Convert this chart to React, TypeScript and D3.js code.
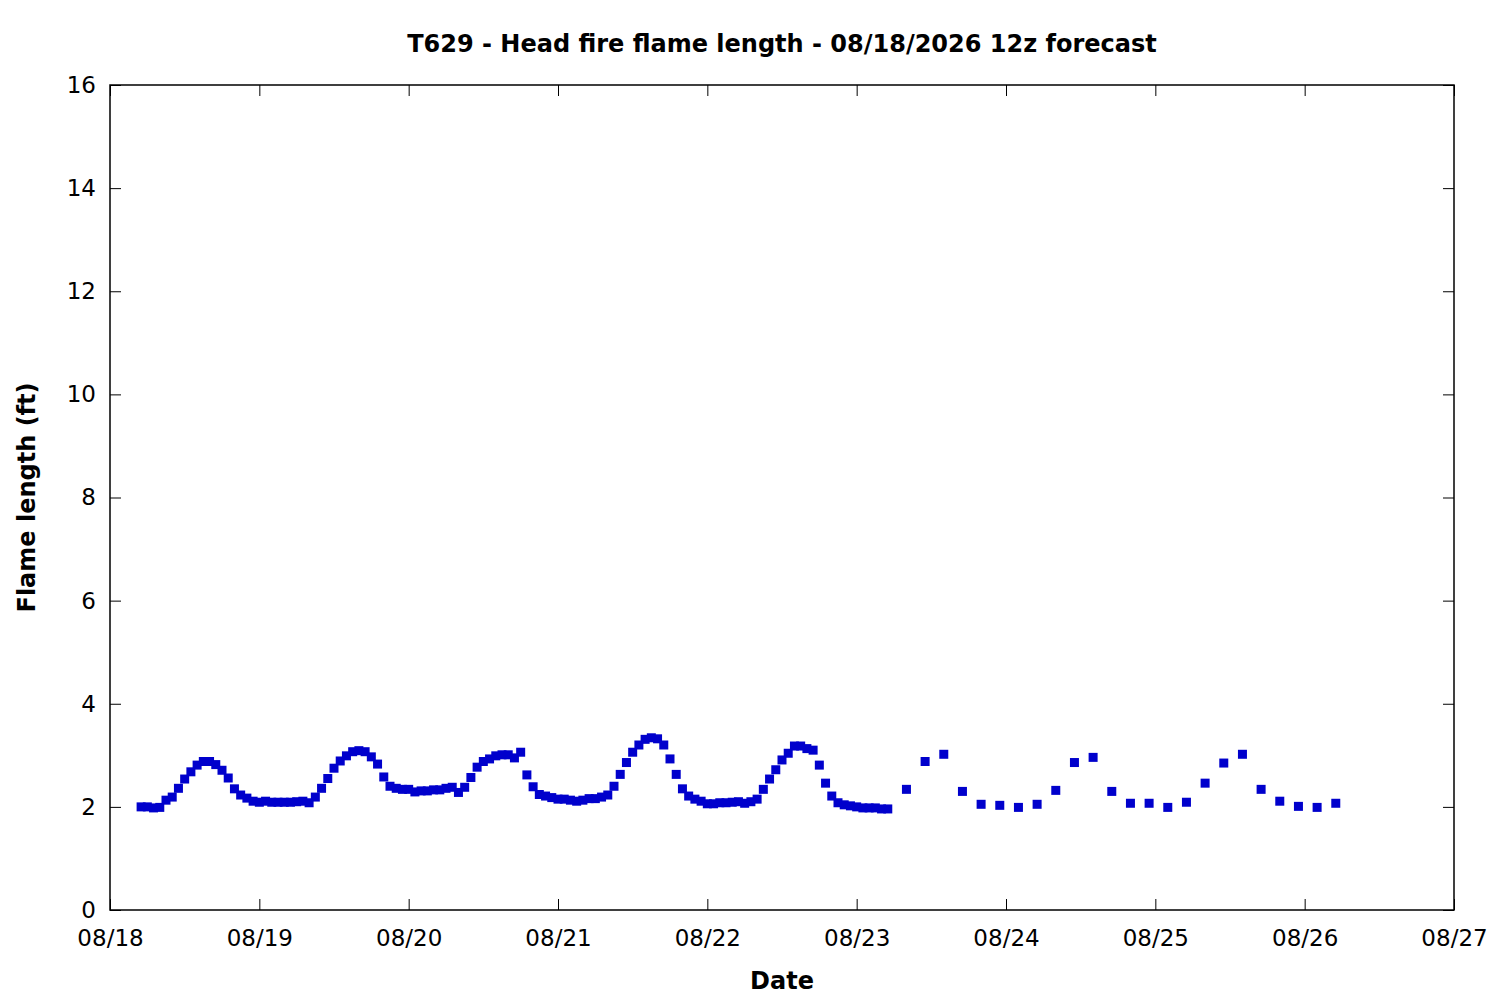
import React, { useEffect, useRef } from 'react';
import * as d3 from 'd3';

// hourly forecast values, 08/18 05:00 -> 08/23 05:00
const hourlyStart = '2026-08-18T05:00:00Z';
const hourlyValues = [
  2.00, 2.00, 1.98, 1.99, 2.13, 2.19, 2.36, 2.54, 2.68, 2.81, 2.88, 2.88,
  2.82, 2.71, 2.56, 2.35, 2.23, 2.17, 2.11, 2.09, 2.11, 2.09, 2.09, 2.09,
  2.09, 2.10, 2.11, 2.08, 2.19, 2.36, 2.55, 2.75, 2.89, 2.99, 3.07, 3.09,
  3.07, 2.97, 2.83, 2.58, 2.40, 2.36, 2.34, 2.34, 2.29, 2.31, 2.31, 2.33,
  2.33, 2.36, 2.38, 2.28, 2.38, 2.57, 2.77, 2.88, 2.93, 2.99, 3.01, 3.01,
  2.95, 3.06, 2.62, 2.39, 2.24, 2.21, 2.18, 2.15, 2.15, 2.13, 2.11, 2.13,
  2.16, 2.16, 2.19, 2.23, 2.40, 2.63, 2.86, 3.06, 3.20, 3.31, 3.34, 3.32,
  3.20, 2.93, 2.63, 2.35, 2.21, 2.15, 2.11, 2.06, 2.06, 2.08, 2.08, 2.09,
  2.10, 2.07, 2.10, 2.15, 2.34, 2.54, 2.72, 2.91, 3.04, 3.18, 3.18, 3.13,
  3.10, 2.81, 2.46, 2.21, 2.08, 2.04, 2.02, 2.00, 1.98, 1.98, 1.98, 1.96,
  1.96,
];

// 3-hourly values, 08/23 08:00 -> 08/26 05:00
const threeHourlyStart = '2026-08-23T08:00:00Z';
const threeHourlyValues = [
  2.34, 2.88, 3.02, 2.30, 2.05, 2.03, 1.99, 2.05, 2.32, 2.86, 2.96, 2.30,
  2.07, 2.07, 1.99, 2.09, 2.46, 2.85, 3.02, 2.34, 2.11, 2.01, 1.99, 2.07,
];

const yTicks = [0, 2, 4, 6, 8, 10, 12, 14, 16];
const xDomain = ['2026-08-18T00:00:00Z', '2026-08-27T00:00:00Z'];

const HOUR = 3600 * 1000;

const App: React.FC = () => {
  const svgRef = useRef<SVGSVGElement>(null);

  useEffect(() => {
    if (!svgRef.current) return;
    const svg = d3.select(svgRef.current);
    svg.selectAll('*').remove();

    const width = 1500;
    const height = 1000;
    const margin = { top: 85, right: 46, bottom: 90, left: 110 };
    const font = 'DejaVu Sans, sans-serif';
    const tickLen = 11;

    const points: { t: Date; v: number }[] = [];
    const h0 = new Date(hourlyStart).getTime();
    hourlyValues.forEach((v, i) => points.push({ t: new Date(h0 + i * HOUR), v }));
    const t0 = new Date(threeHourlyStart).getTime();
    threeHourlyValues.forEach((v, i) => points.push({ t: new Date(t0 + i * 3 * HOUR), v }));

    const x = d3.scaleUtc()
      .domain(xDomain.map(d => new Date(d)))
      .range([margin.left, width - margin.right]);

    const y = d3.scaleLinear()
      .domain([0, 16])
      .range([height - margin.bottom, margin.top]);

    const xTicks = x.ticks(d3.utcDay.every(1)!);
    const fmt = d3.utcFormat('%m/%d');

    // Bottom axis (ticks inside)
    const bottom = svg.append('g')
      .attr('transform', `translate(0,${height - margin.bottom})`)
      .call(d3.axisBottom(x).tickValues(xTicks).tickFormat(d => fmt(d as Date)).tickSizeInner(-tickLen).tickSizeOuter(0).tickPadding(20));
    bottom.select('.domain').remove();

    const top = svg.append('g')
      .attr('transform', `translate(0,${margin.top})`)
      .call(d3.axisTop(x).tickValues(xTicks).tickFormat(() => '').tickSizeInner(-tickLen).tickSizeOuter(0));
    top.select('.domain').remove();

    const left = svg.append('g')
      .attr('transform', `translate(${margin.left},0)`)
      .call(d3.axisLeft(y).tickValues(yTicks).tickSizeInner(-tickLen).tickSizeOuter(0).tickPadding(14));
    left.select('.domain').remove();

    const right = svg.append('g')
      .attr('transform', `translate(${width - margin.right},0)`)
      .call(d3.axisRight(y).tickValues(yTicks).tickFormat(() => '').tickSizeInner(-tickLen).tickSizeOuter(0));
    right.select('.domain').remove();

    svg.selectAll('.tick line').attr('stroke', '#000').attr('stroke-width', 1);
    svg.selectAll('.tick text')
      .attr('fill', '#000')
      .style('font-family', font)
      .style('font-size', '23px');

    // Frame
    svg.append('rect')
      .attr('x', margin.left)
      .attr('y', margin.top)
      .attr('width', width - margin.left - margin.right)
      .attr('height', height - margin.top - margin.bottom)
      .attr('fill', 'none')
      .attr('stroke', '#000')
      .attr('stroke-width', 1.5);

    // Points
    const s = 9;
    svg.append('g')
      .selectAll('rect')
      .data(points)
      .join('rect')
      .attr('x', d => x(d.t) - s / 2)
      .attr('y', d => y(d.v) - s / 2)
      .attr('width', s)
      .attr('height', s)
      .attr('fill', '#0000cc');

    // Titles
    svg.append('text')
      .attr('x', (margin.left + width - margin.right) / 2)
      .attr('y', 52)
      .attr('text-anchor', 'middle')
      .style('font-family', font)
      .style('font-size', '24px')
      .style('font-weight', 'bold')
      .text('T629 - Head fire flame length - 08/18/2026 12z forecast');

    svg.append('text')
      .attr('x', (margin.left + width - margin.right) / 2)
      .attr('y', 989)
      .attr('text-anchor', 'middle')
      .style('font-family', font)
      .style('font-size', '24px')
      .style('font-weight', 'bold')
      .text('Date');

    svg.append('text')
      .attr('transform', `translate(35,${(margin.top + height - margin.bottom) / 2}) rotate(-90)`)
      .attr('text-anchor', 'middle')
      .style('font-family', font)
      .style('font-size', '24px')
      .style('font-weight', 'bold')
      .text('Flame length (ft)');
  }, []);

  return (
    <svg
      ref={svgRef}
      width={1500}
      height={1000}
      style={{ position: 'absolute', left: 0, top: 0, background: '#fff' }}
    />
  );
};

export default App;
